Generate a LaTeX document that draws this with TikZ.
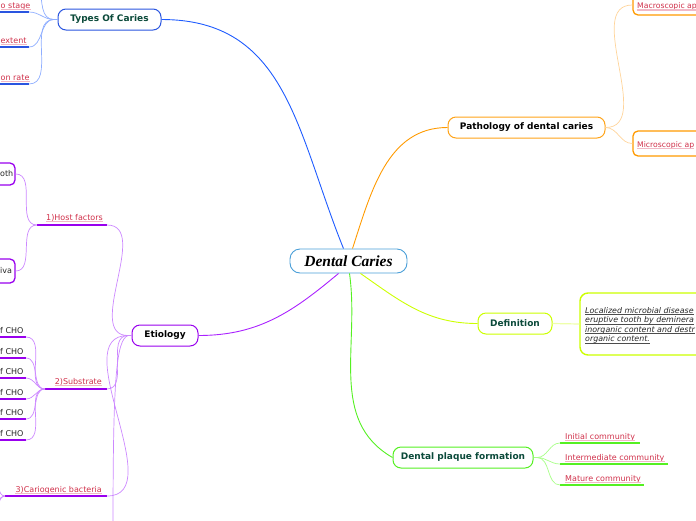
\documentclass[tikz,border=0pt]{standalone}
\usepackage{fontspec}
\setmainfont{DejaVu Sans}
\newfontfamily\centralfont{Liberation Serif}
\usetikzlibrary{calc}
\definecolor{txtgreen}{HTML}{0B4A3A}
\definecolor{lblred}{HTML}{D0304A}
\definecolor{pinkul}{HTML}{F2B8C6}
\definecolor{cblue}{HTML}{1F5CFF}
\definecolor{lblue}{HTML}{8FAEFF}
\definecolor{bblue}{HTML}{2A55E0}
\definecolor{corange}{HTML}{FF9A00}
\definecolor{lorange}{HTML}{FFD49A}
\definecolor{cyel}{HTML}{CCFF00}
\definecolor{lyel}{HTML}{EEFFAA}
\definecolor{cgreen}{HTML}{55F022}
\definecolor{lgreen}{HTML}{A8FF88}
\definecolor{cpurp}{HTML}{AA22FF}
\definecolor{bpurp}{HTML}{9900EE}
\definecolor{lpurp}{HTML}{CC88FF}
\definecolor{cenblue}{HTML}{4A9FD8}
\tikzset{
  mainbox/.style={draw, line width=1pt, rounded corners=8pt, fill=white, minimum height=21pt,
    font=\fontsize{9}{11}\selectfont\bfseries, text=txtgreen, inner xsep=6pt},
  subbox/.style={draw, line width=1.3pt, rounded corners=5pt, fill=white},
  lbl/.style={text=lblred, font=\fontsize{8}{9}\selectfont, inner sep=0pt},
  blk/.style={text=black!85, font=\fontsize{8}{9}\selectfont, inner sep=0pt},
  deftxt/.style={text=black!85, font=\fontsize{7.9}{9}\selectfont\itshape, inner sep=0pt, anchor=base west},
  conn/.style={line width=0.9pt},
  sconn/.style={line width=0.7pt},
  ul/.style={line width=1.4pt},
  pul/.style={line width=1.2pt, pinkul},
}
\begin{document}
\begin{tikzpicture}[x=1pt,y=-1pt]
\useasboundingbox (0,0) rectangle (696,520);
\begin{scope}
\clip (0,0) rectangle (696,520);

% ---------- central
\node[draw=cenblue, line width=0.9pt, rounded corners=10pt, fill=white, minimum width=117pt, minimum height=24pt,
  font=\centralfont\fontsize{15.5}{17}\selectfont\bfseries\itshape] (dc) at (348.5,261) {Dental Caries};

% ---------- main nodes
\node[mainbox, draw=bblue, minimum width=103pt] (types) at (109.5,19.5) {Types Of Caries};
\node[mainbox, draw=corange!90, text=black, minimum width=157pt] (path) at (526.5,127.5) {Pathology of dental caries};
\node[mainbox, draw=cyel, minimum width=74pt] (def) at (515,323.5) {Definition};
\node[mainbox, draw=cgreen, minimum width=140pt] (plaque) at (463,457.5) {Dental plaque formation};
\node[mainbox, draw=bpurp, text=black, minimum width=66pt] (eti) at (165,335.5) {Etiology};

% ---------- main connectors
\draw[conn, cblue] ([xshift=-5pt]dc.north) to[out=112,in=0,looseness=1.1] (types.east);
\draw[conn, corange] ([xshift=4pt]dc.north) to[out=72,in=180] (path.west);
\draw[conn, cyel] ([xshift=12pt]dc.south) to[out=-35,in=180] (def.west);
\draw[conn, cgreen] ([xshift=1pt]dc.south) to[out=-82,in=150] (plaque.west);
\draw[conn, cpurp] ([xshift=-10pt]dc.south) to[out=-140,in=0] (eti.east);

% ---------- Types of caries children
\coordinate (tj) at (54,19.5);
\coordinate (t0) at (40,-12);
\node[lbl, anchor=base west] (t1) at (0.5,8) {o stage};
\node[lbl, anchor=base west] (t2) at (0.5,43) {extent};
\node[lbl, anchor=base west] (t3) at (0.5,80) {on rate};
\foreach \n in {t1,t2,t3} {\draw[pul] ([yshift=-1.5pt]\n.base west) -- ([yshift=-1.5pt]\n.base east);}
\draw[ul, bblue] (-5,12) -- (29,12) coordinate (t1u);
\draw[ul, bblue] (-5,47) -- (29,47) coordinate (t2u);
\draw[ul, bblue] (-5,84) -- (29,84) coordinate (t3u);
\draw[sconn, lblue] (types.west) -- (tj);
\draw[sconn, lblue] (tj) to[out=180,in=-80] (t0);
\foreach \n in {t1u,t2u,t3u} {\draw[sconn, lblue] (tj) to[out=180,in=0] (\n);}

% ---------- Pathology children
\node[subbox, draw=corange, minimum width=100pt, minimum height=26pt] (macro) at (683,2) {};
\node[lbl, font=\fontsize{7.7}{9}\selectfont, anchor=base west] (macrot) at (637,8.5) {Macroscopic ap};
\node[subbox, draw=corange, minimum width=100pt, minimum height=25pt] (micro) at (683,143.5) {};
\node[lbl, font=\fontsize{7.7}{9}\selectfont, anchor=base west] (microt) at (637,147) {Microscopic ap};
\foreach \n in {macrot,microt} {\draw[pul] ([yshift=-1.5pt]\n.base west) -- ([yshift=-1.5pt]\n.base east);}
\draw[sconn, lorange] (path.east) to[out=0,in=180] ($(macro.west)+(0,3)$);
\draw[sconn, lorange] (path.east) to[out=0,in=180] (micro.west);

% ---------- Definition child
\node[subbox, draw=cyel, line width=1.4pt, rounded corners=8pt, minimum width=150pt, minimum height=62pt] (defbox) at (655,324) {};
\node[deftxt] (d1) at (585,313) {Localized microbial disease};
\node[deftxt] (d2) at (585,322.5) {eruptive tooth by deminera};
\node[deftxt] (d3) at (585,332) {inorganic content and destr};
\node[deftxt] (d4) at (585,341.5) {organic content.};
\foreach \n in {d1,d2,d3,d4} {\draw[line width=0.6pt, black!70] ([yshift=-1.3pt]\n.base west) -- ([yshift=-1.3pt]\n.base east);}
\draw[line width=1.2pt, lyel] (def.east) -- (defbox.west);

% ---------- Dental plaque children
\node[lbl, anchor=base west] (p1) at (565,439) {Initial community};
\node[lbl, anchor=base west] (p2) at (565,460) {Intermediate community};
\node[lbl, anchor=base west] (p3) at (565,481) {Mature community};
\foreach \n in {p1,p2,p3} {\draw[pul] ([yshift=-1.5pt]\n.base west) -- ([yshift=-1.5pt]\n.base east);}
\draw[ul, cgreen] (560,443) coordinate (p1u) -- (640,443);
\draw[ul, cgreen] (560,464) coordinate (p2u) -- (668,464);
\draw[ul, cgreen] (560,485) coordinate (p3u) -- (644,485);
\coordinate (pj) at (537,457.5);
\draw[sconn, lgreen] (plaque.east) -- (pj);
\foreach \n in {p1u,p2u,p3u} {\draw[sconn, lgreen] (pj) to[out=0,in=180] (\n);}

% ---------- Etiology children
\coordinate (ej) at (128,335.5);
\coordinate (ebot) at (113,530);
\node[lbl, anchor=base east] (e1) at (103,220) {1)Host factors};
\node[lbl, anchor=base east] (e2) at (102,384) {2)Substrate};
\node[lbl, anchor=base east] (e3) at (102,492) {3)Cariogenic bacteria};
\foreach \n in {e1,e2,e3} {\draw[pul] ([yshift=-1.5pt]\n.base west) -- ([yshift=-1.5pt]\n.base east);}
\draw[ul, bpurp] (37,225) coordinate (e1w) -- (107,225) coordinate (e1u);
\draw[ul, bpurp] (45,389) coordinate (e2w) -- (107,389) coordinate (e2u);
\draw[ul, bpurp] (5,496) coordinate (e3w) -- (107,496) coordinate (e3u);
\draw[sconn, lpurp] (eti.west) -- (ej);
\foreach \n in {e1u,e2u,e3u} {\draw[sconn, lpurp] (ej) to[out=180,in=0] (\n);}
\draw[sconn, lpurp] (ej) .. controls (116,340) and (113,380) .. (ebot);

% host factor children
\node[subbox, draw=bpurp, minimum width=60pt, minimum height=22pt] (hb1) at (-15,174) {};
\node[blk, anchor=west] (hb1t) at (0,174) {oth};
\node[subbox, draw=bpurp, minimum width=60pt, minimum height=24pt] (hb2) at (-15,271) {};
\node[blk, anchor=west] (hb2t) at (0,271) {iva};
\draw[sconn, lpurp] (e1w) to[out=180,in=0] (hb1.east);
\draw[sconn, lpurp] (e1w) to[out=180,in=0] (hb2.east);

% substrate children
\foreach \i/\b in {1/333,2/354,3/374,4/395,5/415,6/436} {
  \node[blk, anchor=base west] (s\i) at (0,\b) {f CHO};
  \draw[ul, bpurp] (-5,\b+4) -- (26,\b+4) coordinate (s\i u);
  \draw[sconn, lpurp] (e2w) to[out=180,in=0] (s\i u);
}

% cariogenic bacteria children (off picture)
\coordinate (c1) at (-8,480);
\coordinate (c2) at (-8,505);
\coordinate (c3) at (-8,515);
\foreach \n in {c1,c2,c3} {\draw[sconn, lpurp] (e3w) to[out=180,in=0] (\n);}
\end{scope}
\end{tikzpicture}
\end{document}
